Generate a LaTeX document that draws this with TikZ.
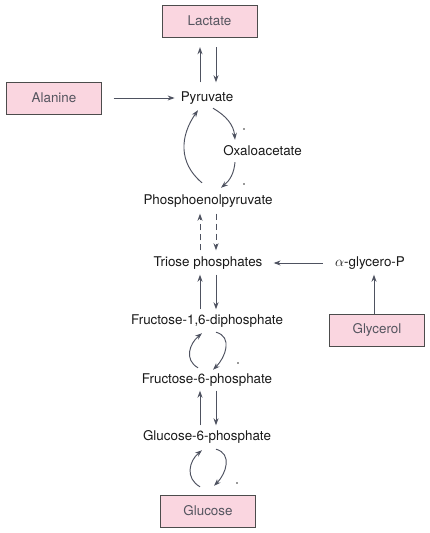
\documentclass[tikz,border=0pt]{standalone}
\usepackage{fontspec}
\setmainfont{TeX Gyre Heros}
\usetikzlibrary{arrows.meta}
\definecolor{boxpink}{RGB}{250,214,224}
\definecolor{arrowgray}{RGB}{78,82,96}
\definecolor{boxtext}{RGB}{85,85,95}

\begin{document}
\begin{tikzpicture}[x=1pt,y=-1pt,
    every node/.style={font=\fontsize{13.4}{15}\selectfont},
    metab/.style={inner sep=0pt,text height=10pt,text depth=3pt,text=black!90},
    source/.style={draw=black!70,fill=boxpink,text=boxtext,minimum width=95pt,minimum height=32pt,inner sep=0pt},
    rxn/.style={draw=arrowgray,line width=0.95pt,-{Stealth[length=7pt,width=5pt]},shorten <=6pt,shorten >=6pt},
    loop/.style={rxn,shorten <=0pt,shorten >=0pt},
    enzdot/.style={circle,fill=black!80,inner sep=0pt,minimum size=1.8pt}]
        % \draw[help lines, gray!50, very thin] (0,0) grid[step=10] (430,533);
        \useasboundingbox (0,0) rectangle (430,533);

        \node[source] (lac) at (209.5,21) {Lactate};
        \node[source] (ala) at (54,98) {Alanine};
        \node[metab] (pyr) at (207,98) {Pyruvate};
        \node[metab] (oxa) at (262.5,152) {Oxaloacetate};
        \node[metab] (pep) at (208,201) {Phosphoenolpyruvate};
        \node[metab] (tri) at (208,263) {Triose phosphates};
        \node[metab] (agp) at (370,263) {$\alpha$-glycero-P};
        \node[source] (gly) at (377,330) {Glycerol};
        \node[metab] (f16) at (207,321) {Fructose-1,6-diphosphate};
        \node[metab] (f6p) at (207,380) {Fructose-6-phosphate};
        \node[metab] (g6p) at (207,437) {Glucose-6-phosphate};
        \node[source] (glc) at (208,511) {Glucose};

        % lactate <-> pyruvate
        \draw[rxn,shorten <=9pt,shorten >=10pt] ([xshift=-7pt]pyr.north) -- ([xshift=-7pt]pyr.north |- lac.south);
        \draw[rxn,shorten <=10pt,shorten >=9pt] ([xshift=9pt]pyr.north |- lac.south) -- ([xshift=9pt]pyr.north);
        \draw[rxn,shorten <=12pt,shorten >=6pt] (ala.east) -- (pyr.west);

        % pyruvate cycle
        \draw[loop] ([xshift=6pt,yshift=-3.5pt]pyr.south) to[out=-30,in=95] ([xshift=-27.5pt,yshift=5.5pt]oxa.north);
        \draw[loop] ([xshift=-27.5pt,yshift=-3.5pt]oxa.south) to[out=-95,in=40] ([xshift=13pt,yshift=6.5pt]pep.north);
        \draw[loop] ([xshift=-6pt,yshift=11.5pt]pep.north) to[out=140,in=-125,looseness=1.1] ([xshift=-9pt,yshift=-5.5pt]pyr.south);
        \node[enzdot] (d1) at (244,129) {};
        \node[enzdot] (d2) at (244,184) {};

        % pep <-> triose
        \draw[rxn,dash pattern=on 6pt off 4pt] ([xshift=-8pt]tri.north) -- ([xshift=-8pt]tri.north |- pep.south);
        \draw[rxn,dash pattern=on 6pt off 4pt] ([xshift=8pt]tri.north |- pep.south) -- ([xshift=8pt]tri.north);

        % glycerol
        \draw[rxn,shorten <=0pt,shorten >=5pt] ([xshift=-3pt]gly.north) -- ([xshift=-3pt]gly.north |- agp.south);
        \draw[rxn,shorten <=12pt,shorten >=11pt] (agp.west) -- (tri.east);

        % triose <-> fructose-1,6
        \draw[rxn,shorten <=5pt,shorten >=5pt] ([xshift=-7pt]f16.north) -- ([xshift=-7pt]f16.north |- tri.south);
        \draw[rxn,shorten <=5pt,shorten >=5pt] ([xshift=9pt]f16.north |- tri.south) -- ([xshift=9pt]f16.north);

        % fructose cycle
        \draw[loop] ([xshift=-9pt,yshift=5.5pt]f6p.north) to[out=150,in=-140,looseness=1.2] ([xshift=-5pt,yshift=-5.5pt]f16.south);
        \draw[loop] ([xshift=9pt,yshift=-4.5pt]f16.south) to[out=-15,in=45,looseness=1.2] ([xshift=6pt,yshift=3.5pt]f6p.north);
        \node[enzdot] (d3) at (238,363) {};

        % fructose-6 <-> glucose-6
        \draw[rxn,shorten <=5pt,shorten >=4pt] ([xshift=-7pt]g6p.north) -- ([xshift=-7pt]g6p.north |- f6p.south);
        \draw[rxn,shorten <=4pt,shorten >=5pt] ([xshift=9pt]g6p.north |- f6p.south) -- ([xshift=9pt]g6p.north);

        % glucose cycle
        \draw[loop] ([xshift=-8pt,yshift=8pt]glc.north) to[out=150,in=-140,looseness=1.2] ([xshift=-5pt,yshift=-6.5pt]g6p.south);
        \draw[loop] ([xshift=9pt,yshift=-5.5pt]g6p.south) to[out=-15,in=45,looseness=1.2] ([xshift=6pt,yshift=9pt]glc.north);
        \node[enzdot] (d4) at (237,483) {};
      \end{tikzpicture}
\end{document}
